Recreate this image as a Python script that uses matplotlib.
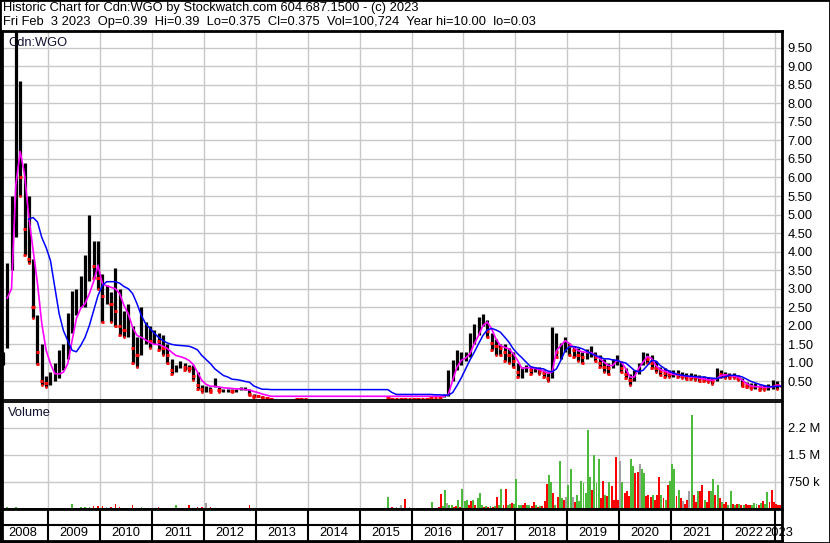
#!/usr/bin/env python
import numpy as np
import matplotlib.pyplot as plt
from matplotlib.patches import Rectangle

plt.rcParams['font.family'] = ['Liberation Sans', 'DejaVu Sans']

nan = np.nan

TITLE = "Historic Chart for Cdn:WGO by Stockwatch.com 604.687.1500 - (c) 2023"
SUBTITLE = ("Fri Feb  3 2023  Op=0.39  Hi=0.39  Lo=0.375  Cl=0.375  "
            "Vol=100,724  Year hi=10.00  lo=0.03")
SYMBOL = "Cdn:WGO"

# monthly bars, Feb 2008 .. Feb 2023
high = [1.3, 3.7, 5.5, 10.0, 8.6, 6.4, 5.5, 3.8, 2.3, 1.5, 0.65,
        0.75, 1.0, 1.35, 1.5, 2.35, 2.95, 3.0, 3.35, 3.9, 5.0, 4.3, 4.3,
        3.4, 3.1, 2.9, 3.55, 3.0, 2.4, 2.6, 2.0, 1.7, 2.5, 2.1, 2.0,
        1.9, 1.8, 1.75, 1.5, 1.1, 0.95, 1.05, 1.0, 0.95, 0.95, 0.75, 0.4,
        0.39, 0.35, 0.6, 0.35, 0.3, 0.3, 0.29, 0.3, 0.35, 0.35, 0.3, 0.17,
        0.12, 0.12, 0.08, 0.05, nan, nan, nan, nan, nan, 0.05, 0.05, 0.04,
        nan, nan, nan, nan, nan, nan, nan, nan, nan, nan, nan, nan,
        nan, nan, nan, nan, nan, nan, 0.08, 0.08, 0.06, 0.05, 0.05, 0.05,
        0.05, 0.05, 0.05, 0.05, 0.06, 0.08, 0.1, 0.15, 0.8, 1.07, 1.34, 1.3,
        1.3, 1.8, 2.05, 2.23, 2.32, 2.15, 1.8, 1.65, 1.5, 1.5, 1.4, 1.3,
        1.0, 0.88, 0.95, 0.9, 0.9, 0.88, 0.82, 0.75, 1.96, 1.8, 1.55, 1.7,
        1.55, 1.45, 1.4, 1.3, 1.38, 1.45, 1.3, 1.2, 1.1, 1.0, 1.1, 1.2,
        1.05, 0.85, 0.7, 0.8, 1.0, 1.3, 1.28, 1.2, 1.05, 0.9, 0.85, 0.82,
        0.8, 0.8, 0.76, 0.74, 0.72, 0.7, 0.67, 0.65, 0.63, 0.6, 0.85, 0.8,
        0.76, 0.72, 0.72, 0.68, 0.58, 0.48, 0.45, 0.45, 0.4, 0.4, 0.42, 0.53,
        0.5, 0.39]
low = [0.95, 1.4, 3.5, 4.4, 5.5, 3.9, 3.7, 2.2, 0.98, 0.4, 0.35,
       0.4, 0.5, 0.6, 0.8, 1.1, 1.8, 2.3, 2.5, 2.5, 3.2, 3.3, 3.0,
       2.1, 2.6, 2.1, 2.0, 1.75, 1.7, 1.7, 1.0, 0.9, 1.2, 1.5, 1.4,
       1.5, 1.35, 1.2, 1.0, 0.7, 0.75, 0.85, 0.8, 0.78, 0.53, 0.3, 0.21,
       0.21, 0.21, 0.35, 0.21, 0.21, 0.22, 0.22, 0.21, 0.26, 0.28, 0.14, 0.08,
       0.08, 0.06, 0.03, 0.03, nan, nan, nan, nan, nan, 0.03, 0.03, 0.03,
       nan, nan, nan, nan, nan, nan, nan, nan, nan, nan, nan, nan,
       nan, nan, nan, nan, nan, nan, 0.03, 0.03, 0.03, 0.03, 0.03, 0.03,
       0.03, 0.03, 0.03, 0.03, 0.03, 0.04, 0.05, 0.07, 0.12, 0.5, 0.8, 0.95,
       1.05, 1.15, 1.5, 1.75, 2.0, 1.7, 1.35, 1.2, 1.2, 1.05, 1.0, 0.9,
       0.62, 0.6, 0.75, 0.7, 0.75, 0.7, 0.62, 0.5, 0.6, 1.15, 1.1, 1.3,
       1.2, 1.15, 1.05, 1.0, 1.1, 1.15, 1.05, 0.9, 0.75, 0.7, 0.85, 0.95,
       0.75, 0.6, 0.4, 0.5, 0.7, 0.95, 1.0, 0.85, 0.75, 0.68, 0.62, 0.62,
       0.62, 0.62, 0.58, 0.57, 0.56, 0.54, 0.52, 0.5, 0.48, 0.44, 0.5, 0.62,
       0.58, 0.58, 0.58, 0.53, 0.39, 0.35, 0.3, 0.31, 0.28, 0.27, 0.28, 0.3,
       0.3, 0.375]
close = [1.2, 3.3, 5.0, 8.0, 6.0, 4.6, 3.8, 2.5, 1.3, 0.5, 0.45,
         0.5, 0.6, 0.8, 1.2, 2.0, 2.3, 2.6, 2.8, 3.5, 4.2, 3.6, 3.3,
         2.8, 2.8, 2.6, 2.4, 2.0, 1.9, 1.9, 1.4, 1.2, 1.6, 1.7, 1.6,
         1.7, 1.6, 1.4, 1.2, 0.8, 0.85, 0.95, 0.9, 0.85, 0.65, 0.4, 0.3,
         0.3, 0.26, 0.4, 0.26, 0.26, 0.26, 0.25, 0.26, 0.3, 0.3, 0.16, 0.1,
         0.1, 0.08, 0.05, 0.035, nan, nan, nan, nan, nan, 0.035, 0.035, 0.035,
         nan, nan, nan, nan, nan, nan, nan, nan, nan, nan, nan, nan,
         nan, nan, nan, nan, nan, nan, 0.05, 0.04, 0.04, 0.04, 0.035, 0.035,
         0.035, 0.035, 0.035, 0.035, 0.05, 0.06, 0.08, 0.12, 0.6, 0.95, 1.1, 1.15,
         1.2, 1.6, 1.9, 2.0, 2.1, 1.85, 1.55, 1.45, 1.4, 1.3, 1.2, 1.05,
         0.75, 0.8, 0.85, 0.8, 0.8, 0.78, 0.72, 0.6, 1.55, 1.3, 1.3, 1.5,
         1.45, 1.35, 1.2, 1.15, 1.25, 1.3, 1.15, 1.0, 0.9, 0.85, 1.05, 1.1,
         0.85, 0.7, 0.55, 0.7, 0.95, 1.15, 1.1, 1.0, 0.85, 0.78, 0.72, 0.7,
         0.72, 0.7, 0.66, 0.65, 0.63, 0.62, 0.6, 0.57, 0.55, 0.52, 0.75, 0.7,
         0.68, 0.66, 0.65, 0.6, 0.45, 0.4, 0.36, 0.37, 0.33, 0.32, 0.33, 0.45,
         0.4, 0.375]

# moving averages, same months
ma_short = [nan, 2.75, 3.0, 5.8, 6.7, 6.1, 4.93, 4.03, 3.14, 2.06, 1.34,
            0.98, 0.71, 0.7, 0.75, 0.98, 1.6, 2.2, 2.47, 2.6, 2.87, 3.2, 3.63,
            3.13, 3.08, 3.04, 3.0, 2.87, 2.55, 2.32, 1.96, 1.74, 1.69, 1.62, 1.55,
            1.5, 1.5, 1.45, 1.39, 1.29, 1.2, 1.17, 1.13, 1.07, 0.96, 0.75, 0.53,
            0.42, 0.37, 0.37, 0.35, 0.33, 0.32, 0.31, 0.3, 0.3, 0.28, 0.27, 0.23,
            0.2, 0.16, 0.13, 0.1, 0.1, 0.1, 0.1, 0.1, 0.1, 0.1, 0.1, 0.1,
            0.1, 0.1, 0.1, 0.1, 0.1, 0.1, 0.1, 0.1, 0.1, 0.1, 0.1, 0.1,
            0.1, 0.1, 0.1, 0.1, 0.1, 0.1, 0.1, 0.1, 0.1, 0.1, 0.1, 0.1,
            0.1, 0.1, 0.1, 0.1, 0.1, 0.1, 0.1, 0.1, 0.15, 0.53, 0.89, 1.07,
            1.13, 1.25, 1.52, 1.74, 2.01, 2.1, 1.92, 1.65, 1.47, 1.42, 1.38, 1.25,
            1.07, 0.85, 0.87, 0.87, 0.85, 0.82, 0.78, 0.72, 0.75, 1.33, 1.47, 1.6,
            1.52, 1.42, 1.33, 1.3, 1.28, 1.28, 1.2, 1.12, 1.02, 0.93, 0.93, 1.07,
            1.02, 0.85, 0.62, 0.62, 0.85, 1.02, 1.17, 1.12, 0.93, 0.82, 0.78, 0.73,
            0.69, 0.68, 0.66, 0.64, 0.62, 0.62, 0.59, 0.57, 0.55, 0.53, 0.57, 0.66,
            0.68, 0.66, 0.64, 0.62, 0.53, 0.44, 0.38, 0.36, 0.36, 0.34, 0.34, 0.36,
            0.4, 0.38]
ma_long = [nan, nan, nan, nan, nan, nan, 4.88, 4.92, 4.8, 4.38, 4.11,
           3.76, 3.04, 2.33, 1.87, 1.6, 1.34, 1.3, 1.47, 1.69, 2.01, 2.41, 2.82,
           3.09, 3.19, 3.19, 3.19, 3.15, 3.06, 3.0, 2.87, 2.6, 2.28, 2.06, 1.93,
           1.8, 1.69, 1.6, 1.54, 1.5, 1.48, 1.47, 1.46, 1.45, 1.41, 1.35, 1.2,
           1.09, 0.98, 0.84, 0.75, 0.66, 0.62, 0.56, 0.55, 0.53, 0.5, 0.48, 0.38,
           0.33, 0.29, 0.29, 0.28, 0.28, 0.28, 0.28, 0.28, 0.28, 0.28, 0.28, 0.28,
           0.28, 0.28, 0.28, 0.28, 0.28, 0.28, 0.28, 0.28, 0.28, 0.28, 0.28, 0.28,
           0.28, 0.28, 0.28, 0.28, 0.28, 0.28, 0.28, 0.2, 0.15, 0.15, 0.15, 0.15,
           0.15, 0.15, 0.15, 0.15, 0.15, 0.14, 0.14, 0.13, 0.13, 0.2, 0.39, 0.6,
           0.84, 1.08, 1.29, 1.52, 1.74, 1.89, 1.93, 1.89, 1.83, 1.7, 1.56, 1.38,
           1.25, 1.14, 1.02, 0.9, 0.87, 0.85, 0.84, 0.78, 0.76, 0.84, 1.07, 1.33,
           1.44, 1.44, 1.42, 1.38, 1.32, 1.25, 1.2, 1.16, 1.11, 1.11, 1.08, 1.07,
           1.02, 1.0, 0.9, 0.8, 0.76, 0.8, 0.93, 1.07, 1.05, 0.93, 0.85, 0.78,
           0.73, 0.69, 0.67, 0.65, 0.64, 0.63, 0.62, 0.62, 0.6, 0.59, 0.58, 0.6,
           0.63, 0.66, 0.67, 0.65, 0.62, 0.56, 0.5, 0.46, 0.42, 0.39, 0.36, 0.36,
           0.37, 0.37]

# volume in thousands: monthly Feb 2008 .. Dec 2015
vol_early = [60, 50, 40, 50, 40, 40, 30, 40, 30, 40, 30,
             40, 30, 30, 40, 40, 140, 40, 60, 50, 60, 80, 70,
             70, 60, 50, 140, 50, 40, 40, 100, 40, 50, 40, 40,
             40, 50, 40, 40, 40, 110, 30, 30, 110, 40, 50, 60,
             175, 60, 40, 30, 40, 30, 30, 30, 30, 30, 110, 40,
             40, 30, 30, 30, 0, 0, 0, 0, 0, 30, 30, 20,
             0, 0, 0, 0, 0, 0, 0, 0, 0, 0, 0, 0,
             0, 0, 0, 0, 0, 0, 340, 60, 50, 100, 280, 60]

# volume in thousands: half-months Jan 2016 .. Feb 2023
vol_late = [20, 30, 15, 25, 20, 30, 20, 25, 30, 190, 30, 40, 50, 420, 80, 530, 170, 100, 120, 60, 90, 250, 60, 560,
            220, 250, 110, 230, 240, 100, 300, 450, 120, 60, 80, 50, 70, 60, 80, 320, 100, 545, 120, 545, 100, 150, 160, 130,
            820, 120, 120, 100, 170, 120, 100, 80, 200, 100, 60, 80, 90, 230, 690, 935, 750, 450, 120, 330, 1330, 300, 250, 330,
            660, 1100, 330, 200, 400, 220, 790, 725, 450, 2200, 900, 520, 1500, 730, 1380, 300, 780, 380, 350, 750, 650, 250, 1430, 250,
            1330, 750, 450, 500, 350, 1400, 1200, 1000, 1030, 1240, 1100, 1000, 350, 380, 330, 380, 250, 400, 890, 380, 300, 250, 665, 780,
            1240, 1100, 350, 520, 300, 230, 150, 250, 500, 2610, 390, 200, 500, 500, 670, 250, 200, 500, 500, 820, 390, 670, 300, 200,
            150, 200, 120, 490, 150, 100, 130, 150, 100, 120, 150, 120, 100, 120, 160, 150, 120, 170, 230, 150, 460, 200, 520, 200,
            150, 100, 100]
vol_late_dir = ("rgrgrgrgrgrgrrggnggrrgrg"
                "ggrrgrgggrgrgrgrggrrggrg"
                "gggrrggrrgrgrrrggrgrggrn"
                "ggnrgggggggrgggrrgrgrrrr"
                "ngrrrggrrnggrrrgrrrgrgrg"
                "ggrgrnrrngrrgrrgrrggrgrg"
                "rrggrgrgrgrrrgggrgrggrrr"
                "rrr")

years = list(range(2008, 2024))
price_ticks = [0.5 * i for i in range(1, 20)]
vol_ticks = [750e3, 1.5e6, 2.25e6]
vol_labels = ["750 k", "1.5 M", "2.2 M"]

GRID = '#c8c8c8'
DIR_COLORS = {'g': '#4cbb3c', 'r': '#ff0000', 'n': '#a0a0a0'}
FS = 9.3
T0, T1 = 2008.108, 2023.137


def month_times(n, first_month=1):
    return 2008 + (np.arange(first_month, first_month + n) + 0.5) / 12.0


def direction(closes):
    out = []
    prev = nan
    for c in closes:
        if np.isnan(c) or np.isnan(prev) or c == prev:
            out.append('n')
        elif c > prev:
            out.append('g')
        else:
            out.append('r')
        if not np.isnan(c):
            prev = c
    return out


def style_spines(ax, lw=2.0):
    for s in ax.spines.values():
        s.set_color('black')
        s.set_linewidth(lw)


def draw_price(ax):
    t = month_times(len(high))
    hi = np.array(high)
    lo = np.array(low)
    cl = np.array(close)
    dirs = np.array(direction(close))
    ok = ~np.isnan(hi)
    flat = ok & ((hi - lo) < 0.06)
    body = ok & ~flat
    # range bars in black, thin flat months drawn as red dashes
    ax.vlines(t[body], lo[body], hi[body], colors='black', lw=2.3)
    ax.hlines(cl[flat], t[flat] - 0.035, t[flat] + 0.035, colors='#ff0000', lw=2.2)
    down = body & (dirs == 'r')
    ax.hlines(cl[down], t[down] - 0.032, t[down] + 0.032, colors='#ff0000', lw=2.2)
    ax.hlines(lo[down], t[down] - 0.025, t[down] + 0.025, colors='#ff0000', lw=2.0)
    ax.plot(t, ma_short, color='#ff00ff', lw=1.2)
    ax.plot(t, ma_long, color='#0000ff', lw=1.1)

    ax.set_xlim(T0, T1)
    ax.set_ylim(0, 9.95)
    ax.set_xticks(years[1:])
    ax.set_yticks(price_ticks)
    ax.set_yticklabels(['%.2f' % v for v in price_ticks])
    ax.yaxis.tick_right()
    ax.tick_params(axis='y', length=0, pad=4, labelsize=FS)
    ax.tick_params(axis='x', length=0, labelbottom=False)
    ax.grid(True, color=GRID, lw=1)
    ax.set_axisbelow(True)
    style_spines(ax)
    ax.spines['bottom'].set_linewidth(1.3)
    ax.text(0.0077, 0.968, SYMBOL, transform=ax.transAxes, va='center',
            fontsize=FS, color='#101030')


def draw_volume(ax):
    t_early = month_times(len(vol_early))
    dirs_early = direction(close[:len(vol_early)])
    ax.bar(t_early, np.array(vol_early) * 1e3, width=0.03,
           color=[DIR_COLORS[d] for d in dirs_early], linewidth=0)
    t_late = 2016 + (np.arange(len(vol_late)) + 0.5) / 24.0
    ax.bar(t_late, np.array(vol_late) * 1e3, width=0.9 / 24,
           color=[DIR_COLORS[d] for d in vol_late_dir], linewidth=0)

    ax.set_xlim(T0, T1)
    ax.set_ylim(0, 2.97e6)
    ax.set_xticks(years[1:])
    ax.set_yticks(vol_ticks)
    ax.set_yticklabels(vol_labels)
    ax.yaxis.tick_right()
    ax.tick_params(axis='y', length=0, pad=4, labelsize=FS)
    ax.tick_params(axis='x', length=0, labelbottom=False)
    ax.grid(True, color=GRID, lw=1)
    ax.set_axisbelow(True)
    style_spines(ax)
    ax.spines['top'].set_linewidth(1.3)
    ax.text(0.0077, 0.897, "Volume", transform=ax.transAxes, va='center',
            fontsize=FS, color='#101030')


def draw_dates(ax):
    ax.set_xlim(T0, T1)
    ax.set_ylim(0, 1)
    ax.set_xticks([])
    ax.set_yticks([])
    style_spines(ax)
    ax.axhline(0.5, color='black', lw=1.5)
    for y in years[1:]:
        ax.axvline(y, color='black', lw=1.5)
    for y in years:
        if y == years[-1]:
            xc = (y + T1) / 2
        else:
            xc = y + 0.5
        ax.text(xc, 0.24, str(y), ha='center', va='center', fontsize=FS)


def main():
    fig = plt.figure(figsize=(8.3, 5.43), dpi=100, facecolor='white')
    W, H = 830.0, 543.0
    ax_p = fig.add_axes([2 / W, 1 - 400 / H, 780 / W, 369 / H])
    ax_v = fig.add_axes([2 / W, 1 - 509 / H, 780 / W, 107 / H])
    ax_d = fig.add_axes([2 / W, 1 - 541 / H, 780 / W, 32 / H])
    draw_price(ax_p)
    draw_volume(ax_v)
    draw_dates(ax_d)

    fig.text(3 / W, 1 - 7.5 / H, TITLE, va='center', fontsize=FS)
    fig.text(3 / W, 1 - 21.5 / H, SUBTITLE, va='center', fontsize=FS)
    fig.patches.append(Rectangle((0, 0), 1, 1, transform=fig.transFigure,
                                 fill=False, edgecolor='black', lw=2))
    fig.savefig('out.png', dpi=100)


if __name__ == "__main__":
    main()
